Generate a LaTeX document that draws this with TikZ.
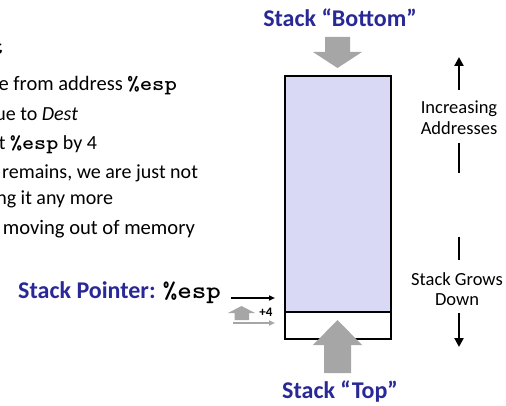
\documentclass[tikz,border=0pt]{standalone}
\usepackage{fontspec}
\usepackage{graphicx}
\setmainfont{Carlito}
\usetikzlibrary{arrows.meta}
\definecolor{titleblue}{RGB}{40,40,150}
\definecolor{stackfill}{RGB}{217,217,245}
\definecolor{blockgray}{RGB}{166,166,166}
% register names in a wide bold typewriter face
\newcommand{\regname}[1]{\scalebox{1.15}[1]{\ttfamily\bfseries #1}}
\begin{document}
\begin{tikzpicture}[x=1pt,y=-1pt,
  body/.style={font=\fontsize{20}{24}\selectfont, inner sep=0pt, outer sep=0pt},
  side/.style={font=\fontsize{18.5}{22}\selectfont, inner sep=0pt, outer sep=0pt},
  label/.style={font=\fontsize{24}{28}\selectfont\bfseries, text=titleblue, inner sep=0pt},
  cell/.style={draw, line width=2pt, anchor=north west, inner sep=0pt, minimum width=106pt},
  blockarrow/.style={fill=blockgray, draw=none},
  dirarrow/.style={line width=2.5pt, -{Triangle[length=9pt,width=9pt]}},
  dirbar/.style={line width=2.5pt},
  ptr/.style={line width=1.8pt, -{Triangle[length=6pt,width=5pt]}}]
\useasboundingbox (0,0) rectangle (506,406);
\clip (0,0) rectangle (506,406);

% instruction text on the left
\node[body, anchor=base east] (l1) at (4,55) {\fontsize{24}{24}\selectfont\regname{popl Dest}};
\node[body, anchor=base east, font=\fontsize{20.5}{24}\selectfont] (l2) at (177,91) {Load value from address \regname{\%esp}};
\node[body, anchor=base east] (l3) at (78,121) {Write value to \textit{Dest}};
\node[body, anchor=base east] (l4) at (97,150) {Increment \regname{\%esp} by 4};
\node[body, anchor=base east] (l5) at (198,179) {Memory still remains, we are just not};
\node[body, anchor=base east] (l6) at (113,205) {using it any more};
\node[body, anchor=base east, font=\fontsize{20.6}{24}\selectfont] (l7) at (195,235) {Value is not moving out of memory};

% the stack
\node[cell, fill=stackfill, minimum height=236pt] (stack) at (284,75) {};
\node[cell, fill=white, minimum height=27pt] (topcell) at (284,311) {};

% titles
\node[label, anchor=base] (bottomlbl) at (340,27) {Stack “Bottom”};
\node[label, anchor=base] (toplbl) at (340,398) {Stack “Top”};

% block arrows into the stack
\fill[blockarrow] (325,37) -- (350,37) -- (350,52) -- (362,52) -- (337.5,68)
  -- (313,52) -- (325,52) -- cycle;
\fill[blockarrow] (324,373) -- (351,373) -- (351,345) -- (362,345) -- (337.5,320)
  -- (313,345) -- (324,345) -- cycle;

% stack pointer
\node[label, anchor=base east] (splbl) at (221,298) {Stack Pointer: {\color{black}\regname{\%esp}}};
\coordinate (sp0) at (231,298);
\coordinate (sp1) at (275,298);
\coordinate (np0) at (233,323);
\coordinate (np1) at (275,323);
\draw[ptr] (sp0) -- (sp1);
\draw[ptr, blockgray, line width=1.5pt] (np0) -- (np1);
\fill[blockarrow] (234.5,320) -- (249,320) -- (249,313) -- (255,313) -- (241.5,306)
  -- (228,313) -- (234.5,313) -- cycle;
\node[font=\fontsize{13}{13}\selectfont\bfseries, anchor=base, inner sep=0pt] (plus) at (266,316) {+4};

% direction hints on the right
\node[side, anchor=base] (inc) at (459,114) {Increasing};
\node[side, anchor=base] (addr) at (459,135) {Addresses};
\node[side, anchor=base] (grows) at (457,285) {Stack Grows};
\node[side, anchor=base] (down) at (457,305) {Down};
\coordinate (ua0) at (459,90);
\coordinate (ua1) at (459,57);
\coordinate (ub0) at (459,143);
\coordinate (ub1) at (459,173);
\coordinate (db0) at (459,237);
\coordinate (db1) at (459,260);
\coordinate (da0) at (459,313);
\coordinate (da1) at (459,347);
\draw[dirarrow] (ua0) -- (ua1);
\draw[dirbar] (ub0) -- (ub1);
\draw[dirbar] (db0) -- (db1);
\draw[dirarrow] (da0) -- (da1);
\end{tikzpicture}
\end{document}
